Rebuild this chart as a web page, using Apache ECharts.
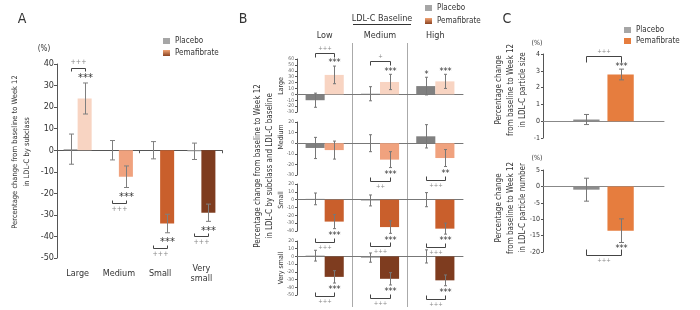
<!DOCTYPE html>
<html><head><meta charset="utf-8">
<script src="https://cdn.jsdelivr.net/npm/echarts@6/dist/echarts.min.js"></script>
<style>html,body{margin:0;padding:0;background:#fff}#c{width:700px;height:310px}</style>
</head><body><div id="c"></div>
<script>
// ---------------- DATA ----------------
// Panel A: LDL-C subclasses
const catsA = ['Large', 'Medium', 'Small', 'Very\nsmall'];
const placeboA = [0.5, 0, 0, -0.5];
const placeboSdA = [7, 4.5, 4, 3.8];
const pemaA = [24, -12.3, -34, -29];
const pemaSdA = [7.2, 5, 4.3, 4];
const starsA = ['***', '***', '***', '***'];
const plusA = ['+++', '+++', '+++', '+++'];
const yTicksA = [-50, 40, 10];

// Panel B: subclass x LDL-C baseline
const colsB = ['Low', 'Medium', 'High'];
const rowsB = ['Large', 'Medium', 'Small', 'Very small'];
const placeboB = [[-10, 1, 14], [-4.5, 0, 6.5], [1, -1, 0], [1, -1.5, 0]];
const placeboSdB = [[12, 12, 15], [10, 8, 11], [7.5, 7, 9], [7, 6, 8.5]];
const pemaB = [[33, 21, 22], [-6.5, -15.5, -14], [-28, -35, -37], [-26.5, -29, -31]];
const pemaSdB = [[15, 13, 12], [8.5, 7.5, 8], [9, 8, 7], [8, 8, 7]];
const starsB = [['***', '***', '***'], ['', '***', '**'], ['***', '***', '***'], ['***', '***', '***']];
const placeboStarsB = [['', '', '*'], ['', '', ''], ['', '', ''], ['', '', '']];
const plusB = [['+++', '+', ''], ['', '++', '+++'], ['+++', '+++', '+++'], ['+++', '+++', '+++']];
const yTicksB = [[-30, 60, 10], [-30, 20, 10], [-40, 20, 10], [-50, 20, 10]];

// Panel C: particle size / number
const catsC = [''];
const placeboC = [0.1, -1];
const placeboSdC = [0.3, 3.5];
const pemaC = [2.78, -13.5];
const pemaSdC = [0.32, 3.6];
const starsC = ['***', '***'];
const plusC = ['+++', '+++'];
const yTicksC = [[-1, 4, 1], [-20, 5, 5]];

// ---------------- STYLE ----------------
const FONT = '"DejaVu Sans Condensed", "Liberation Sans", Arial, sans-serif';
const AX = '#555';
const pemaColors = ['#f8d4c2', '#f0a27e', '#c95f2c', '#7e3c1f'];
const pemaGrad = new echarts.graphic.LinearGradient(0, 0, 0, 1, [{offset: 0, color: '#f2a575'}, {offset: 1, color: '#8a4220'}]);
const cfgA = {catGap: 0.32, barGap: 0, cap: 2.5, errColor: '#7f7f7f', starGap: 7, bracketGap: 8, plusGap: 6, leg: 3, starSize: 11, plusSize: 7};
const cfgB = {catGap: 0.31, barGap: 0, cap: 1.5, errColor: '#777', starGap: 5, bracketGap: 8, plusGap: 5, leg: 4, starSize: 9, plusSize: 6};
const cfgC = {catGap: 0.5, barGap: 0.3, cap: 2.5, errColor: '#777', starGap: 4, bracketGap: 9, plusGap: 5, leg: 6, starSize: 9, plusSize: 6};

function barOffset(api, side, cfg) {
  const band = api.size([1, 0])[0];
  const w = band * (1 - cfg.catGap) / (2 + cfg.barGap);
  return (side === 0 ? -1 : 1) * (w / 2 + w * cfg.barGap / 2);
}
function errRender(cfg) {
  return function (params, api) {
    const cat = api.value(0), v = api.value(1), sd = api.value(2), side = api.value(3);
    const cx = Math.round(api.coord([cat, 0])[0] + barOffset(api, side, cfg)) + 0.5;
    const y1 = api.coord([cat, v - sd])[1], y2 = api.coord([cat, v + sd])[1];
    const st = {stroke: cfg.errColor, lineWidth: 1};
    const h = cfg.cap;
    return {type: 'group', children: [
      {type: 'line', shape: {x1: cx, y1: y1, x2: cx, y2: y2}, style: st},
      {type: 'line', shape: {x1: cx - h, y1: y1, x2: cx + h, y2: y1}, style: st},
      {type: 'line', shape: {x1: cx - h, y1: y2, x2: cx + h, y2: y2}, style: st}
    ]};
  };
}
function txt(x, y, s, size, color) {
  return {type: 'text', x: x, y: y, style: {text: s, font: size + 'px ' + FONT, fill: color,
    align: 'center', verticalAlign: 'middle', textAlign: 'center', textVerticalAlign: 'middle'}};
}
function annRender(cfg, vals, sds, stars, plus, pvals, psds, pstars) {
  return function (params, api) {
    const i = params.dataIndex;
    const cat = api.value(0);
    const v = vals[i], sd = sds[i];
    const up = v >= 0, dir = up ? -1 : 1;
    const c0 = api.coord([cat, 0])[0];
    const xP = Math.round(c0 + barOffset(api, 0, cfg)) + 0.5;
    const xQ = Math.round(c0 + barOffset(api, 1, cfg)) + 0.5;
    const yEnd = api.coord([cat, up ? v + sd : v - sd])[1];
    const ch = [];
    const yStar = yEnd + dir * cfg.starGap;
    if (stars[i]) ch.push(txt(xQ, yStar + 0.22 * cfg.starSize, stars[i], cfg.starSize, '#333'));
    if (pstars && pstars[i]) {
      const pe = api.coord([cat, pvals[i] + psds[i]])[1];
      ch.push(txt(xP, pe - cfg.starGap + 0.22 * cfg.starSize, pstars[i], cfg.starSize, '#333'));
    }
    if (plus[i]) {
      const yB = Math.round(yStar + dir * cfg.bracketGap) + 0.5;
      const lg = -dir * cfg.leg;
      ch.push({type: 'polyline', shape: {points: [[xP, yB + lg], [xP, yB], [xQ, yB], [xQ, yB + lg]]},
        style: {stroke: '#444', lineWidth: 1, fill: null}});
      ch.push(txt((xP + xQ) / 2, yB + dir * cfg.plusGap, plus[i], cfg.plusSize, '#888'));
    }
    return {type: 'group', children: ch};
  };
}

// ---------------- OPTION ----------------
const grids = [
  {left: 57, top: 64, width: 165, height: 194},
  {left: 297, top: 59, width: 166, height: 53},
  {left: 297, top: 122, width: 166, height: 53},
  {left: 297, top: 184, width: 166, height: 47},
  {left: 297, top: 241, width: 166, height: 54},
  {left: 297, top: 43, width: 166, height: 264},
  {left: 543, top: 54, width: 121, height: 84},
  {left: 543, top: 170, width: 121, height: 82}
].map(g => Object.assign({outerBoundsMode: 'none', containLabel: false}, g));

const xAxis = [], yAxis = [], series = [];
function valAxis(gi, t, fs, lblColor) {
  return {gridIndex: gi, type: 'value', min: t[0], max: t[1], interval: t[2],
    axisLine: {show: true, lineStyle: {color: AX, width: 1}},
    axisTick: {show: true, length: 2, lineStyle: {color: AX}},
    splitLine: {show: false},
    axisLabel: {fontSize: fs, margin: 3, color: lblColor, fontFamily: FONT}};
}
function catAxis(gi, data, lineColor) {
  return {gridIndex: gi, type: 'category', data: data,
    axisLine: {onZero: true, lineStyle: {color: lineColor, width: 1}},
    axisTick: {show: false}, axisLabel: {show: false}};
}
function addGroup(xi, yi, pv, psd, qv, qsd, qColors, pColor, cfg, stars, plus, pstars) {
  const common = {xAxisIndex: xi, yAxisIndex: yi, silent: true};
  series.push(Object.assign({type: 'bar', name: 'Placebo', data: pv,
    barGap: (cfg.barGap * 100) + '%', barCategoryGap: (cfg.catGap * 100) + '%',
    itemStyle: {color: pColor}}, common));
  series.push(Object.assign({type: 'bar', name: 'Pemafibrate',
    data: qv.map((v, i) => ({value: v, itemStyle: {color: qColors[i]}})),
    barGap: (cfg.barGap * 100) + '%', barCategoryGap: (cfg.catGap * 100) + '%'}, common));
  const err = [];
  pv.forEach((v, i) => err.push([i, v, psd[i], 0]));
  qv.forEach((v, i) => err.push([i, v, qsd[i], 1]));
  series.push(Object.assign({type: 'custom', renderItem: errRender(cfg), data: err, z: 5}, common));
  series.push(Object.assign({type: 'custom',
    renderItem: annRender(cfg, qv, qsd, stars, plus, pv, psd, pstars),
    data: qv.map((v, i) => [i, v]), z: 6}, common));
}

// Panel A  (x0, y0)
xAxis.push({gridIndex: 0, type: 'category', data: catsA, position: 'top',
  axisLine: {onZero: true, lineStyle: {color: AX, width: 1}},
  axisTick: {show: true, length: 3, inside: true, lineStyle: {color: AX}},
  axisLabel: {show: false}});
yAxis.push(Object.assign(valAxis(0, yTicksA, 9, '#333'), {axisTick: {show: true, length: 3, lineStyle: {color: AX}}}));
addGroup(0, 0, placeboA, placeboSdA, pemaA, pemaSdA, pemaColors, '#a6a6a6', cfgA, starsA, plusA, null);

// Panel B rows (x1..4, y1..4)
rowsB.forEach((r, k) => {
  xAxis.push(catAxis(k + 1, colsB, '#777'));
  yAxis.push(valAxis(k + 1, yTicksB[k], 5, '#666'));
  addGroup(k + 1, k + 1, placeboB[k], placeboSdB[k], pemaB[k], pemaSdB[k],
    colsB.map(() => pemaColors[k]), '#808080', cfgB, starsB[k], plusB[k], placeboStarsB[k]);
});
// Panel B column dividers & headers (x5, x6, y5)
xAxis.push({gridIndex: 5, type: 'value', min: 0, max: colsB.length, interval: 1,
  axisLine: {show: false}, axisTick: {show: false}, axisLabel: {show: false},
  splitLine: {show: true, showMinLine: false, showMaxLine: false, lineStyle: {color: '#aaa', width: 1}}});
xAxis.push({gridIndex: 5, type: 'category', position: 'top', data: colsB,
  axisLine: {show: false}, axisTick: {show: false},
  axisLabel: {fontSize: 9, margin: 3, color: '#333', fontFamily: FONT}});
yAxis.push({gridIndex: 5, type: 'value', min: 0, max: 1, show: false});

// Panel C (x7, x8 ; y6, y7)
[0, 1].forEach(k => {
  xAxis.push(catAxis(6 + k, catsC, '#888'));
  yAxis.push(valAxis(6 + k, yTicksC[k], 7, '#333'));
  addGroup(7 + k, 6 + k, [placeboC[k]], [placeboSdC[k]], [pemaC[k]], [pemaSdC[k]],
    ['#e67d3e'], '#8c8c8c', cfgC, [starsC[k]], [plusC[k]], null);
});

// Panel A category labels (x9) at bottom of grid 0
xAxis.push({gridIndex: 0, type: 'category', data: catsA, position: 'bottom',
  axisLine: {show: false, onZero: false}, axisTick: {show: false},
  axisLabel: {interval: 0, margin: 16, verticalAlign: 'middle', fontSize: 9, lineHeight: 10, color: '#333', fontFamily: FONT}});

function gtext(x, y, s, size, rot) {
  return {type: 'text', x: x, y: y, rotation: rot || 0, silent: true,
    style: {text: s, font: size + 'px ' + FONT, fill: '#333', align: 'center', verticalAlign: 'middle',
      textAlign: 'center', textVerticalAlign: 'middle', lineHeight: 12}};
}
const R = Math.PI / 2;
const graphic = [
  gtext(22, 19, 'A', 14), gtext(243, 19, 'B', 14), gtext(507, 19, 'C', 14),
  gtext(44, 49, '(%)', 8),
  gtext(21, 152, 'Percentage change from baseline to Week 12\nin LDL-C by subclass', 7.5, R),
  gtext(382, 19, 'LDL-C Baseline', 9),
  {type: 'line', shape: {x1: 353, y1: 24.5, x2: 411, y2: 24.5}, style: {stroke: '#333', lineWidth: 1}, silent: true},
  gtext(264, 166, 'Percentage change from baseline to Week 12\nin LDL-C by subclass and LDL-C baseline', 8, R),
  gtext(281, 86, rowsB[0], 7, R), gtext(281, 137, rowsB[1], 7, R),
  gtext(281, 200, rowsB[2], 7, R), gtext(281, 268, rowsB[3], 7, R),
  gtext(537, 43, '(%)', 7), gtext(537, 158, '(%)', 7),
  gtext(511, 90, 'Percentage change\nfrom baseline to Week 12\nin LDL-C particle size', 8, R),
  gtext(511, 208, 'Percentage change\nfrom baseline to Week 12\nin LDL-C particle number', 8, R)
];

function legendAt(left, top, gap, pemaIcon) {
  return {left: left, top: top, orient: 'vertical', itemWidth: 7, itemHeight: 6, itemGap: gap,
    selectedMode: false, icon: 'rect', padding: 0,
    textStyle: {fontSize: 8, color: '#333', fontFamily: FONT},
    data: [{name: 'Placebo', itemStyle: {color: '#a6a6a6'}}, {name: 'Pemafibrate', itemStyle: {color: pemaIcon}}]};
}

const option = {
  animation: false,
  backgroundColor: '#fff',
  grid: grids, xAxis: xAxis, yAxis: yAxis, series: series, graphic: graphic,
  legend: [legendAt(163, 37, 4, pemaGrad), legendAt(425, 4, 5, pemaGrad), legendAt(624, 26, 3, '#e67d3e')]
};
const chart = echarts.init(document.getElementById('c'), null, {renderer: 'canvas'});
chart.setOption(option);
</script></body></html>
